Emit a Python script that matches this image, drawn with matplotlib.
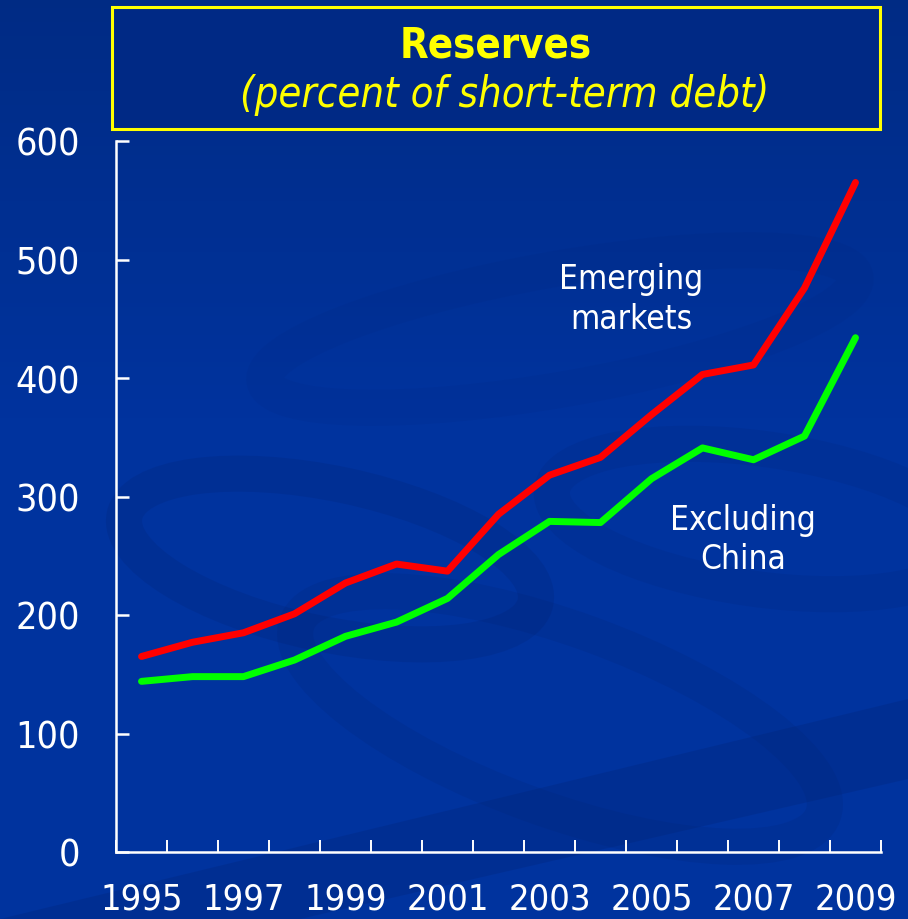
import numpy as np
import matplotlib.pyplot as plt
from matplotlib.patches import Rectangle, Ellipse, Polygon

years = list(range(1995, 2010))
emerging = [165, 177, 185, 201, 227, 243, 237, 285, 318, 333, 369, 403, 411, 476, 565]
excl_china = [144, 148, 148, 162, 182, 194, 214, 251, 279, 278, 315, 341, 331, 351, 434]
tick_years = [1995, 1997, 1999, 2001, 2003, 2005, 2007, 2009]

W, H = 908, 920
fig = plt.figure(figsize=(W / 100, H / 100), dpi=100)

# background: blue gradient with a few darker swirls
bg = fig.add_axes([0, 0, 1, 1])
bg.set_xlim(0, W)
bg.set_ylim(H, 0)
bg.axis("off")
grad = np.linspace(0, 1, 200)[:, None]
top = np.array([0.0, 0.17, 0.52])
mid = np.array([0.0, 0.20, 0.62])
img = top + (mid - top) * np.clip(grad * 2.2, 0, 1)[:, :, None]
bg.imshow(img * np.ones((1, 2, 1)), extent=[0, W, H, 0], aspect="auto", zorder=0)
dark = (0.0, 0.12, 0.42)
for (cx, cy, w, h, a, al) in [
    (330, 560, 420, 150, 12, 0.18),
    (560, 720, 560, 180, 20, 0.15),
    (760, 520, 420, 140, 8, 0.13),
    (560, 330, 600, 120, -10, 0.08),
]:
    bg.add_patch(Ellipse((cx, cy), w, h, angle=a, facecolor="none",
                         edgecolor=dark, lw=26, alpha=al, zorder=1))
bg.add_patch(Polygon([[0, 920], [908, 700], [908, 780], [300, 920]],
                     closed=True, facecolor=dark, alpha=0.22, lw=0, zorder=1))

# title box
bg.add_patch(Rectangle((112, 8), 768, 122, facecolor=(0.0, 0.16, 0.52),
                       edgecolor="#ffff00", lw=2.2, zorder=2))
bg.text(496, 45, "Reserves", color="#ffff00", fontsize=30, fontweight="bold",
        ha="center", va="center", fontstretch="condensed", zorder=3)
bg.text(505, 95, "(percent of short-term debt)", color="#ffff00", fontsize=30,
        style="italic", ha="center", va="center", fontstretch="condensed", zorder=3)

# main chart
ax = fig.add_axes([116 / W, (H - 853) / H, (881 - 116) / W, (853 - 142) / H])
ax.patch.set_alpha(0)
x = np.arange(len(years))
ax.plot(x, emerging, color="#ff0000", lw=5, solid_capstyle="round", solid_joinstyle="round")
ax.plot(x, excl_china, color="#00ff00", lw=5, solid_capstyle="round", solid_joinstyle="round")
ax.set_xlim(-0.5, len(years) - 0.5)
ax.set_ylim(0, 600)

for s in ["top", "right"]:
    ax.spines[s].set_visible(False)
for s in ["left", "bottom"]:
    ax.spines[s].set_color("white")
    ax.spines[s].set_linewidth(1.8)

ax.set_yticks(range(0, 601, 100))
ax.tick_params(axis="y", direction="in", length=9, width=1.8, color="white",
               labelcolor="white", labelsize=27, pad=26)
ax.set_xticks([years.index(y) for y in tick_years])
ax.set_xticklabels([str(y) for y in tick_years])
ax.tick_params(axis="x", which="major", length=0, labelcolor="white",
               labelsize=26, pad=21)
ax.set_xticks(np.arange(-0.5, len(years)), minor=True)
ax.tick_params(axis="x", which="minor", direction="in", length=9, width=1.4, color="white")
for lab in ax.get_xticklabels() + ax.get_yticklabels():
    lab.set_fontstretch("condensed")

ax.text(9.6, 467, "Emerging\nmarkets", color="white", fontsize=24, ha="center",
        va="center", linespacing=1.25, fontstretch="condensed")
ax.text(11.8, 264, "Excluding\nChina", color="white", fontsize=24, ha="center",
        va="center", linespacing=1.25, fontstretch="condensed")

fig.savefig("out.png", dpi=100, facecolor=(0.0, 0.2, 0.62))
